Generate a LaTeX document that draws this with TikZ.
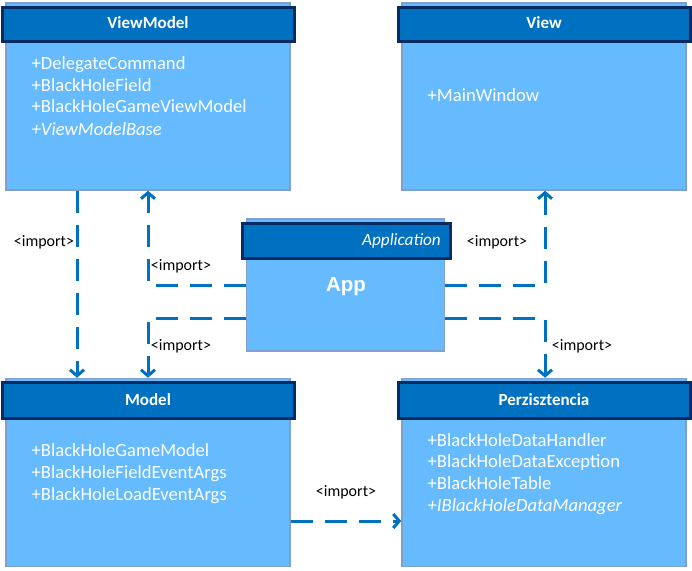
\documentclass[tikz,border=0pt]{standalone}
\usepackage{fontspec}
\setmainfont{Carlito}
\newfontfamily\appfont{Liberation Sans}
\usetikzlibrary{arrows.meta}

\definecolor{bodyblue}{HTML}{66BBFF}
\definecolor{bodyline}{HTML}{7F9FCF}
\definecolor{headblue}{HTML}{0070C0}
\definecolor{headline}{HTML}{0A2A62}
\definecolor{linkblue}{HTML}{0070C0}

\tikzset{
  pkgbody/.style={draw=bodyline, line width=1.5pt, fill=bodyblue, inner sep=0pt},
  pkghead/.style={draw=headline, line width=3pt, fill=headblue, inner sep=0pt},
  headtext/.style={text=white, anchor=base, inner sep=0pt, font=\fontsize{17}{20}\selectfont\bfseries},
  item/.style={text=white, anchor=base west, inner sep=0pt, font=\fontsize{18.6}{22}\selectfont},
  dep/.style={linkblue, line width=3pt, dash pattern=on 22pt off 12pt,
    -{Straight Barb[length=6pt,width=14pt,line width=3pt]}},
  deplabel/.style={anchor=base, inner sep=0pt, font=\fontsize{16}{19}\selectfont}
}

\begin{document}
\begin{tikzpicture}[x=1pt, y=-1pt]
  \useasboundingbox (0,0) rectangle (692,570);

  % packages
  \node[pkgbody, minimum width=284pt, minimum height=187pt] (vm) at (148,96.5) {};
  \node[pkghead, minimum width=292pt, minimum height=34pt] (vmhead) at (148,24) {};
  \node[pkgbody, minimum width=284pt, minimum height=187pt] (view) at (544,96.5) {};
  \node[pkghead, minimum width=292pt, minimum height=34pt] (viewhead) at (544,24) {};
  \node[pkgbody, minimum width=198pt, minimum height=132pt] (app) at (345.5,285) {};
  \node[pkghead, minimum width=208pt, minimum height=35pt] (apphead) at (346,240.5) {};
  \node[pkgbody, minimum width=284pt, minimum height=188pt] (model) at (148,472.5) {};
  \node[pkghead, minimum width=292pt, minimum height=36pt] (modelhead) at (148,400.5) {};
  \node[pkgbody, minimum width=284pt, minimum height=188pt] (perz) at (544,472.5) {};
  \node[pkghead, minimum width=292pt, minimum height=36pt] (perzhead) at (544,400.5) {};

  % titles
  \node[headtext] (vmtitle) at (148,28.3) {ViewModel};
  \node[headtext] (viewtitle) at (544,28.3) {View};
  \node[headtext] (modeltitle) at (148,405) {Model};
  \node[headtext] (perztitle) at (544,405) {Perzisztencia};
  \node[text=white, anchor=base east, inner sep=0pt, font=\fontsize{17.2}{20}\selectfont\itshape] (appstereo) at (441,245) {Application};
  \node[text=white, anchor=base, inner sep=0pt, font=\appfont\fontsize{20.5}{24}\selectfont\bfseries] (apptitle) at (346,291.7) {App};

  % contents
  \node[item] (vm1) at (31.5,69) {+DelegateCommand};
  \node[item] (vm2) at (31.5,91) {+BlackHoleField};
  \node[item] (vm3) at (31.5,112.7) {+BlackHoleGameViewModel};
  \node[item] (vm4) at (31.5,135) {\itshape +ViewModelBase};
  \node[item] (view1) at (427.5,101) {+MainWindow};
  \node[item] (model1) at (31.5,456.7) {+BlackHoleGameModel};
  \node[item] (model2) at (31.5,478.3) {+BlackHoleFieldEventArgs};
  \node[item] (model3) at (31.5,500) {+BlackHoleLoadEventArgs};
  \node[item] (perz1) at (427.5,446) {+BlackHoleDataHandler};
  \node[item] (perz2) at (427.5,467.3) {+BlackHoleDataException};
  \node[item] (perz3) at (427.5,489) {+BlackHoleTable};
  \node[item] (perz4) at (427.5,511.7) {\itshape +IBlackHoleDataManager};

  % dependencies
  \coordinate (lx) at (77,0);
  \coordinate (mx) at (148,0);
  \coordinate (rx) at (545,0);
  \coordinate (dny) at (0,318);
  \coordinate (by) at (0,521);
  \draw[dep] (vm.south -| lx) -- (model.north -| lx);
  \draw[dep] (app.west) -| (vm.south -| mx);
  \draw[dep] (app.west |- dny) -| (model.north -| mx);
  \draw[dep] (app.east) -| (view.south -| rx);
  \draw[dep] (app.east |- dny) -| (perz.north -| rx);
  \draw[dep] (model.east |- by) -- (perz.west |- by);

  \node[deplabel] (lbl1) at (44,246.7) {<import>};
  \node[deplabel] (lbl2) at (181,270) {<import>};
  \node[deplabel] (lbl3) at (181,350) {<import>};
  \node[deplabel] (lbl4) at (497,246.7) {<import>};
  \node[deplabel] (lbl5) at (582,350) {<import>};
  \node[deplabel] (lbl6) at (346,496.7) {<import>};
\end{tikzpicture}
\end{document}
